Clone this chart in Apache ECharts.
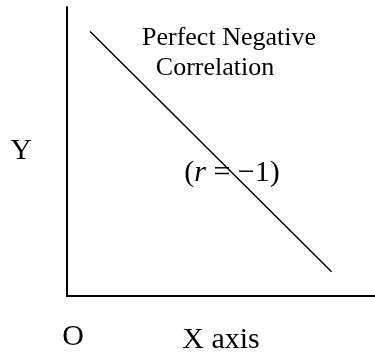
<!DOCTYPE html>
<html>
<head>
<meta charset="utf-8">
<script src="https://cdn.jsdelivr.net/npm/echarts@6/dist/echarts.min.js"></script>
<style>
html,body{margin:0;padding:0;background:#fff;}
#chart{width:375px;height:352px;}
</style>
</head>
<body>
<div id="chart"></div>
<script>
// line end points (x, y) in axis units
let xdata=[7.5,85.9]
let ydata=[91.5,8.4]
let titleLines=["Perfect Negative","Correlation"]
let rLabel="({i|r} = \u22121)"

let myChart=echarts.init(document.getElementById("chart"))
let serif="Liberation Serif"

myChart.setOption({
  animation:false,
  grid:{
    left:67,
    right:0,
    top:7,
    bottom:56,
    containLabel:false,
    outerBoundsMode:"none"
  },
  xAxis:{
    type:"value",
    min:0,
    max:100,
    name:"X axis",
    nameLocation:"middle",
    nameGap:29,
    nameMoveOverlap:false,
    nameTextStyle:{color:"#000",fontFamily:serif,fontSize:30},
    axisLine:{show:true,lineStyle:{color:"#000",width:2}},
    axisTick:{show:false},
    axisLabel:{show:false},
    splitLine:{show:false}
  },
  yAxis:{
    type:"value",
    min:0,
    max:100,
    name:"Y",
    nameLocation:"middle",
    nameRotate:0,
    nameGap:35,
    nameMoveOverlap:false,
    nameTextStyle:{color:"#000",fontFamily:serif,fontSize:30},
    axisLine:{show:true,lineStyle:{color:"#000",width:2}},
    axisTick:{show:false},
    axisLabel:{show:false},
    splitLine:{show:false}
  },
  series:[
    {
      type:"line",
      data:xdata.map((x,i)=>[x,ydata[i]]),
      symbol:"none",
      lineStyle:{color:"#000",width:1.5}
    }
  ],
  graphic:[
    {type:"text",x:229,y:38,style:{text:titleLines[0],fontFamily:serif,fontSize:26,fill:"#000",align:"center",verticalAlign:"middle"}},
    {type:"text",x:215,y:68,style:{text:titleLines[1],fontFamily:serif,fontSize:26,fill:"#000",align:"center",verticalAlign:"middle"}},
    {type:"text",x:232,y:173,style:{text:rLabel,fontFamily:serif,fontSize:30,fill:"#000",align:"center",verticalAlign:"middle",
      rich:{i:{fontStyle:"italic",fontFamily:serif,fontSize:30}}}},
    {type:"text",x:73,y:337,style:{text:"O",fontFamily:serif,fontSize:30,fill:"#000",align:"center",verticalAlign:"middle"}}
  ]
})
</script>
</body>
</html>
